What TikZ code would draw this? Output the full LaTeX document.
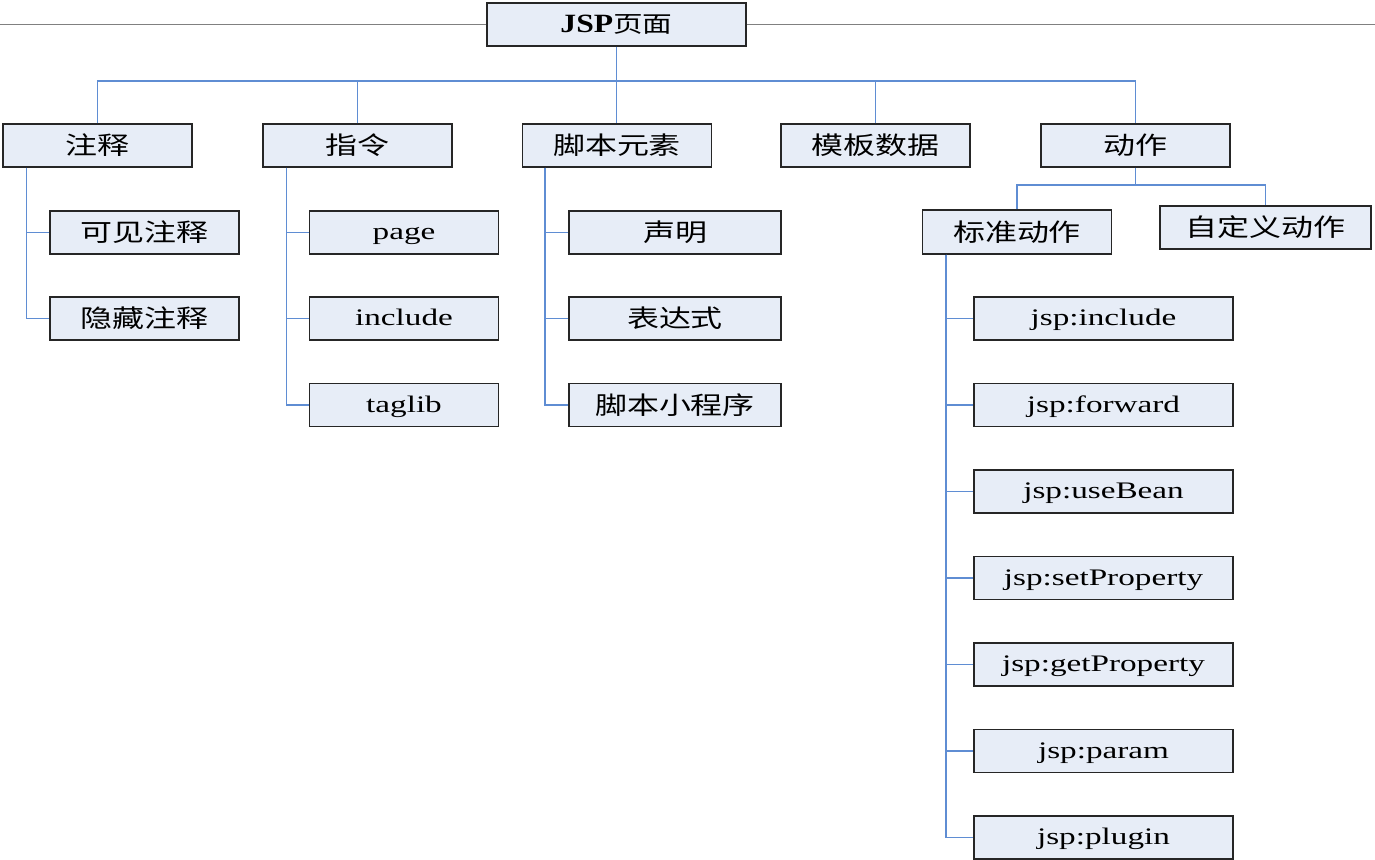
\documentclass[tikz,border=0pt]{standalone}
\usepackage{fontspec}
\setmainfont{Liberation Serif}[FakeStretch=1.4]
\newfontfamily\rootfont{Liberation Serif}[FakeStretch=1.2]
\newfontfamily\cjk{Noto Sans CJK SC}[FakeStretch=1.3]
\usepackage{tikz}

\definecolor{boxfill}{HTML}{E7EDF7}
\definecolor{linkblue}{HTML}{5F8DD3}
\tikzset{
  box/.style={draw=black!85, line width=0.8pt, fill=boxfill, inner sep=0pt,
    minimum width=3.78cm, minimum height=0.86cm},
  cn/.style={box, font=\cjk\fontsize{14}{16}\selectfont},
  en/.style={box, font=\fontsize{13.5}{16}\selectfont, text height=10pt, text depth=2pt},
  link/.style={linkblue, line width=0.9pt},
}

\begin{document}
\begin{tikzpicture}[x=0.02cm, y=-0.02cm]
  \useasboundingbox (0,0) rectangle (1375,859);
  \coordinate (L) at (0,22);
  \coordinate (R) at (1375,22);

  % Root
  \node[box, minimum width=5.18cm, text height=11pt, text depth=2pt] (root) at (616.5,24.5)
    {\rootfont\bfseries\fontsize{15}{17}\selectfont JSP{\cjk\mdseries\fontsize{13}{15}\selectfont 页面}};
  \draw[gray, line width=0.6pt] (root.west) -- (root.west -| L);
  \draw[gray, line width=0.6pt] (root.east) -- (root.east -| R);

  % First level
  \node[cn] (zs) at (97.5,145.5) {注释};
  \node[cn] (zl) at (357.5,145.5) {指令};
  \node[cn] (jb) at (617,145.5) {脚本元素};
  \node[cn] (mb) at (875.5,145.5) {模板数据};
  \node[cn] (dz) at (1135.5,145.5) {动作};

  \coordinate (bus) at (616.5,81);
  \draw[link] (root.south) -- (root.south |- jb.north);
  \draw[link] (zs.north) |- (bus) -| (dz.north);
  \draw[link] (zl.north) -- (zl.north |- bus);
  \draw[link] (mb.north) -- (mb.north |- bus);

  % Comments
  \node[cn] (kj) at (144.5,232.5) {可见注释};
  \node[cn] (yc) at (144.5,318.5) {隐藏注释};
  \draw[link] ([xshift=0.48cm]zs.south west) |- (kj.west);
  \draw[link] ([xshift=0.48cm]zs.south west) |- (yc.west);

  % Directives
  \node[en] (page) at (404,232.5) {page};
  \node[en] (incl) at (404,318.5) {include};
  \node[en] (tlib) at (404,405) {taglib};
  \foreach \c in {page,incl,tlib}
    \draw[link] ([xshift=0.48cm]zl.south west) |- (\c.west);

  % Scripting elements
  \node[cn, minimum width=4.24cm] (sm) at (675,232.5) {声明};
  \node[cn, minimum width=4.24cm] (bds) at (675,318.5) {表达式};
  \node[cn, minimum width=4.24cm] (jbx) at (675,405) {脚本小程序};
  \foreach \c in {sm,bds,jbx}
    \draw[link] ([xshift=0.46cm]jb.south west) |- (\c.west);

  % Actions
  \node[cn, minimum height=0.88cm] (std) at (1017,232) {标准动作};
  \node[cn, minimum width=4.22cm] (zdy) at (1265.5,227.5) {自定义动作};
  \coordinate (abus) at (1135.5,185);
  \draw[link] (dz.south) -- (dz.south |- abus);
  \draw[link] (std.north) |- (abus) -| (zdy.north);

  \foreach \t [count=\i] in {jsp:include,jsp:forward,jsp:useBean,jsp:setProperty,jsp:getProperty,jsp:param,jsp:plugin}{
    \node[en, minimum width=5.18cm] (act\i) at (1103.5,{318.5+86.5*(\i-1)}) {\t};
    \draw[link] ([xshift=0.48cm]std.south west) |- (act\i.west);
  }
\end{tikzpicture}
\end{document}
